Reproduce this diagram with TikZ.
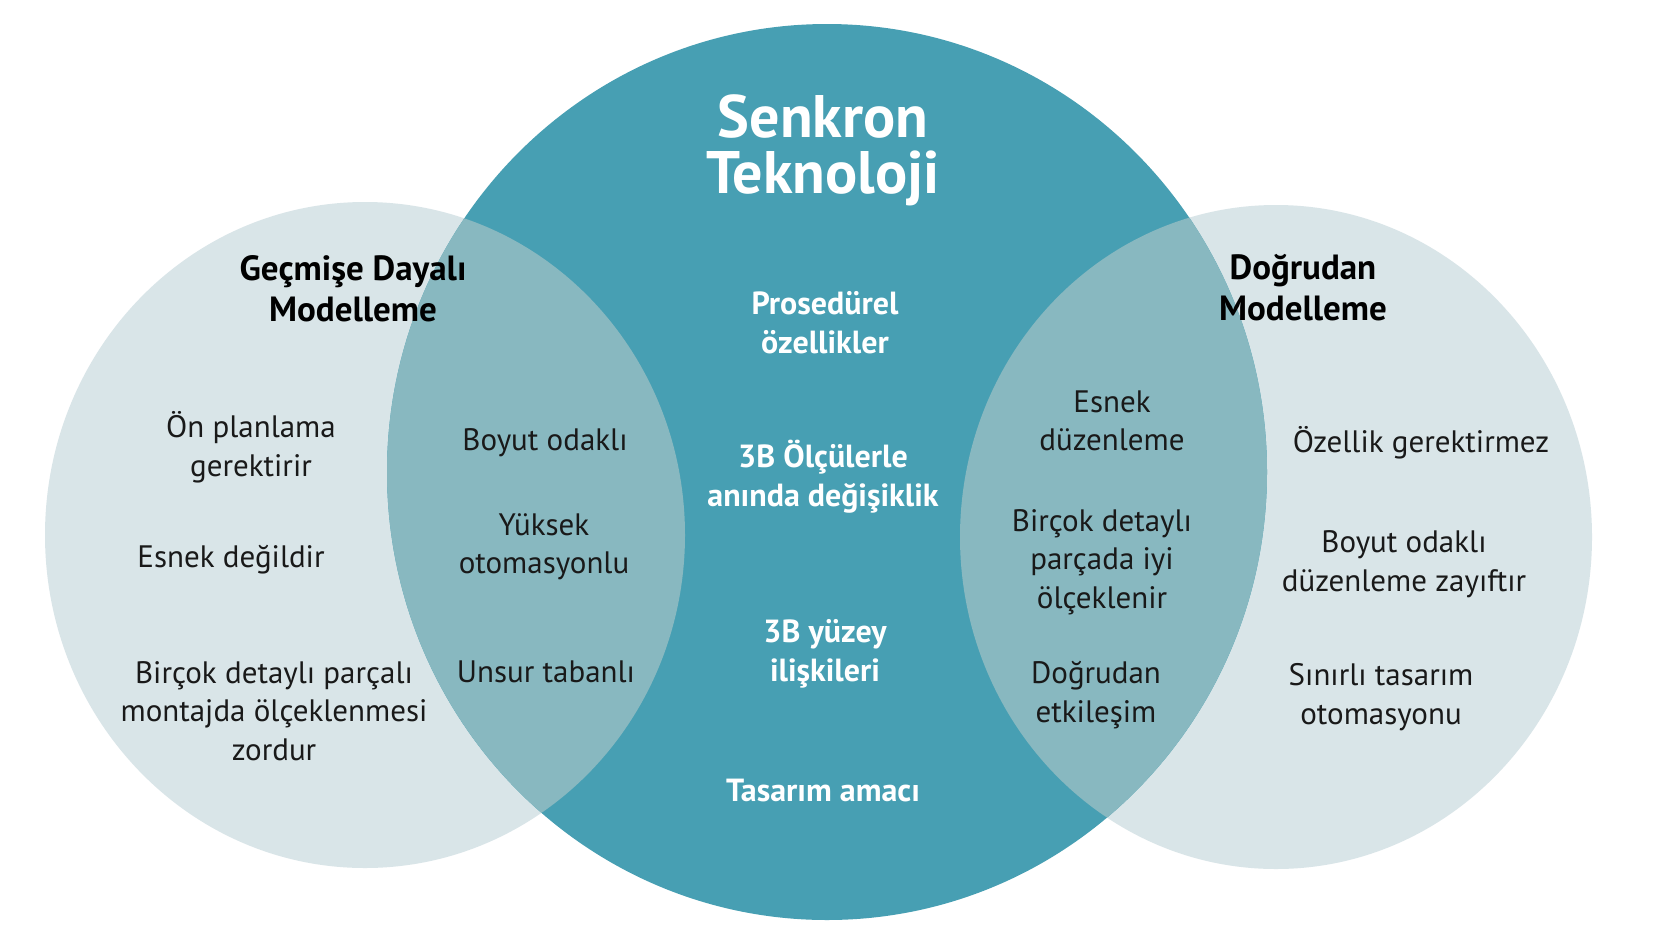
\documentclass[tikz,border=0pt]{standalone}
\usepackage{fontspec}
\setmainfont{PT Sans}

\definecolor{outerfill}{RGB}{217,229,232}
\definecolor{corefill}{RGB}{71,159,179}
\definecolor{meetfill}{RGB}{136,184,192}

\tikzset{
  item/.style={align=center, font=\fontsize{31}{38.5}\selectfont, text=black!90},
  coreitem/.style={align=center, font=\fontsize{32}{39}\selectfont\bfseries, text=white},
  heading/.style={align=center, font=\fontsize{35}{41}\selectfont\bfseries, text=black},
}

\begin{document}
\begin{tikzpicture}[x=1pt,y=-1pt]
  \fill[white] (0,0) rectangle (1654,951);
  \fill[outerfill] (365,535) ellipse (320 and 333);
  \fill[outerfill] (1276,537) ellipse (316 and 332);
  \fill[corefill] (827,472) ellipse (440 and 448);
  \begin{scope}
    \clip (827,472) ellipse (440 and 448);
    \fill[meetfill] (365,535) ellipse (320 and 333);
    \fill[meetfill] (1276,537) ellipse (316 and 332);
  \end{scope}

  % centre
  \node[coreitem, font=\fontsize{60}{56}\selectfont\bfseries] (sync) at (823,150) {Senkron\\Teknoloji};
  \node[coreitem] (proc)   at (825,323) {Prosedürel\\özellikler};
  \node[coreitem] (dims)   at (823,477) {3B Ölçülerle\\anında değişiklik};
  \node[coreitem] (surf)   at (825,654) {3B yüzey\\ilişkileri};
  \node[coreitem] (intent) at (823,791) {Tasarım amacı};

  % left
  \node[heading] (hist)  at (353,289) {Geçmişe Dayalı\\Modelleme};
  \node[item] (plan)     at (251,447) {Ön planlama\\gerektirir};
  \node[item] (rigid)    at (231,560) {Esnek değildir};
  \node[item] (scale)    at (274,711) {Birçok detaylı parçalı\\montajda ölçeklenmesi\\zordur};
  \node[item] (dimfoc)   at (545,443) {Boyut odaklı};
  \node[item] (auto)     at (544,547) {Yüksek\\otomasyonlu};
  \node[item] (feat)     at (546,672) {Unsur tabanlı};

  % right
  \node[heading] (direct) at (1303,288) {Doğrudan\\Modelleme};
  \node[item] (flex)      at (1112,421) {Esnek\\düzenleme};
  \node[item] (parts)     at (1102,562) {Birçok detaylı\\parçada iyi\\ölçeklenir};
  \node[item] (interact)  at (1096,695) {Doğrudan\\etkileşim};
  \node[item] (nofeat)    at (1421,443) {Özellik gerektirmez};
  \node[item] (weak)      at (1404,564) {Boyut odaklı\\düzenleme zayıftır};
  \node[item] (limit)     at (1381,697) {Sınırlı tasarım\\otomasyonu};
\end{tikzpicture}
\end{document}
